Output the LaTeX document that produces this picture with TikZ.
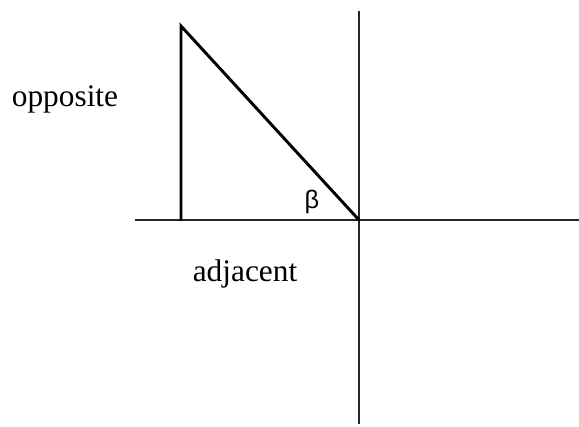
\documentclass[tikz,border=0pt]{standalone}
\usepackage{fontspec}
\setmainfont{Liberation Serif}
\newfontfamily\betafont{Liberation Sans}
\usetikzlibrary{positioning}

\begin{document}
\begin{tikzpicture}[
  x=0.75pt,y=-0.75pt,
  axis/.style={line width=1.1pt,black!85},
  side/.style={line width=2.2pt,black,line cap=round,line join=miter},
  word/.style={font=\fontsize{23.5}{28}\selectfont,anchor=base,inner sep=0pt},
  angle/.style={font=\betafont\fontsize{19}{22}\selectfont,anchor=base,inner sep=0pt}
]
\useasboundingbox (0,0) rectangle (579,426);

% Axes
\coordinate (xl) at (135,220);
\coordinate (xr) at (579,220);
\coordinate (yt) at (359,11);
\coordinate (yb) at (359,424);
\draw[axis] (xl) -- (xr);
\draw[axis] (yt) -- (yb);

% Triangle
\coordinate (top) at (181,26);
\coordinate (foot) at (181,220);
\coordinate (origin) at (359,220);
\draw[side] (foot) -- (top) -- (origin);

% Labels
\node[word] (opp) at (65,106) {opposite};
\node[word] (adj) at (245,281) {adjacent};
\node[angle] (beta) at (312,208) {β};

\end{tikzpicture}
\end{document}
